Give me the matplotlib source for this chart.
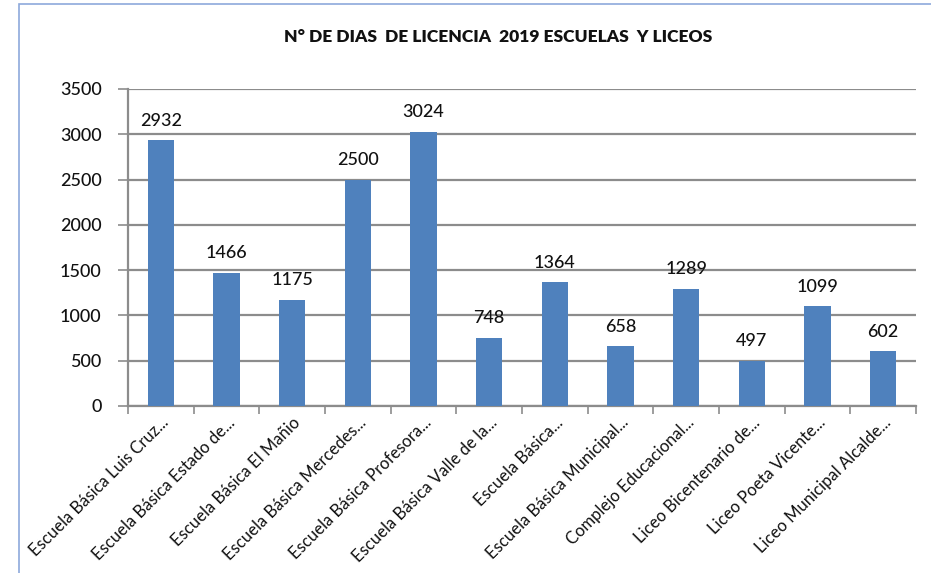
import matplotlib.pyplot as plt
import numpy as np
from matplotlib.patches import Rectangle

escuelas = [
    "Escuela Básica Luis Cruz...",
    "Escuela Básica Estado de...",
    "Escuela Básica El Mañio",
    "Escuela Básica Mercedes...",
    "Escuela Básica Profesora...",
    "Escuela Básica Valle de la...",
    "Escuela Básica...",
    "Escuela Básica Municipal...",
    "Complejo Educacional...",
    "Liceo Bicentenario de...",
    "Liceo Poeta Vicente...",
    "Liceo Municipal Alcalde...",
]
dias = [2932, 1466, 1175, 2500, 3024, 748, 1364, 658, 1289, 497, 1099, 602]
y_ticks = [0, 500, 1000, 1500, 2000, 2500, 3000, 3500]

plt.rcParams['font.family'] = ['Lato', 'DejaVu Sans']

fig = plt.figure(figsize=(9.31, 5.73), dpi=100)
# thin blue chart frame
fig.patches.append(Rectangle((19 / 931, -0.1), 1.2, 1 - 4 / 573 + 0.1,
                             transform=fig.transFigure, fill=False,
                             edgecolor='#8EA9DB', linewidth=1.2))

ax = fig.add_axes([128 / 931, 1 - 406 / 573, (916 - 128) / 931, (406 - 89) / 573])

x = np.arange(len(dias))
bars = ax.bar(x, dias, width=0.4, color='#4F81BD', zorder=3)

for xi, v in zip(x, dias):
    ax.text(xi, v + 130, str(v), ha='center', va='bottom', fontsize=13,
            fontweight='medium', color='#111111')

ax.set_xlim(-0.5, len(dias) - 0.5)
ax.set_ylim(0, 3500)
ax.set_yticks(y_ticks)
ax.set_yticklabels([str(t) for t in y_ticks], fontsize=13, fontweight='medium', color='#111111')
ax.yaxis.grid(True, color='#8C8C8C', linewidth=1.6, zorder=0)

ax.set_xticks(np.arange(-0.5, len(dias), 1), minor=False)
ax.set_xticklabels([])
ax.set_xticks(x, minor=True)
ax.set_xticklabels(escuelas, minor=True, rotation=45, ha='right', va='top',
                   rotation_mode='anchor', fontsize=12, color='#111111')
ax.tick_params(axis='x', which='minor', length=0, pad=6)
ax.tick_params(axis='x', which='major', length=6, color='#8C8C8C', width=1.2)
ax.tick_params(axis='y', length=7, color='#8C8C8C', width=1.2, pad=12)

for side in ['top', 'right']:
    ax.spines[side].set_visible(False)
for side in ['left', 'bottom']:
    ax.spines[side].set_color('#8C8C8C')
    ax.spines[side].set_linewidth(1.6)

fig.text(498 / 931, 1 - 37 / 573, "N° DE DIAS  DE LICENCIA  2019 ESCUELAS  Y LICEOS",
         ha='center', va='center', fontsize=12.5, fontweight='heavy', color='#111111')

fig.savefig("out.png", dpi=100)
